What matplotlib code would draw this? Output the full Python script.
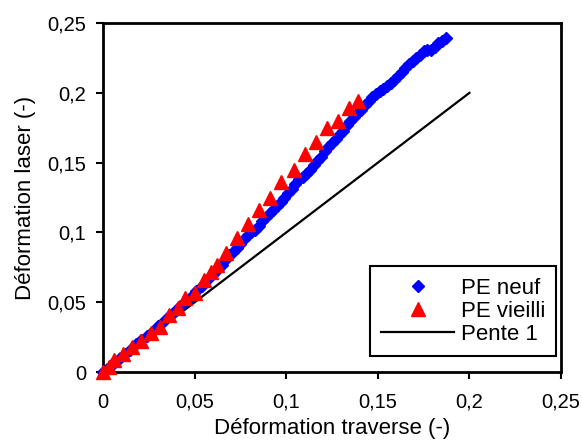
import numpy as np
import matplotlib
matplotlib.use('Agg')
import matplotlib.pyplot as plt

plt.rcParams['font.family'] = ['Liberation Sans', 'DejaVu Sans']

# PE neuf (diamonds)
neuf_x = [0.000, 0.002, 0.004, 0.006, 0.009, 0.012, 0.015, 0.018, 0.021, 0.024,
          0.027, 0.030, 0.033, 0.036, 0.039, 0.042, 0.045, 0.048, 0.051, 0.054,
          0.057, 0.060, 0.062, 0.065, 0.067, 0.069, 0.071, 0.073, 0.075, 0.077,
          0.079, 0.081, 0.083, 0.085, 0.087, 0.089, 0.091, 0.093, 0.095, 0.097,
          0.099, 0.101, 0.103, 0.105, 0.107, 0.109, 0.111, 0.113, 0.115, 0.117,
          0.119, 0.121, 0.123, 0.125, 0.127, 0.129, 0.131, 0.133, 0.135, 0.137,
          0.139, 0.141, 0.143, 0.145, 0.147, 0.149, 0.151, 0.153, 0.155, 0.157,
          0.159, 0.161, 0.163, 0.165, 0.167, 0.169, 0.171, 0.173, 0.175, 0.177,
          0.179, 0.181, 0.183, 0.185, 0.187]
neuf_y = [0.000, 0.002, 0.004, 0.007, 0.010, 0.013, 0.016, 0.020, 0.023, 0.026,
          0.029, 0.033, 0.036, 0.040, 0.043, 0.047, 0.050, 0.054, 0.058, 0.062,
          0.066, 0.070, 0.073, 0.077, 0.081, 0.084, 0.086, 0.089, 0.092, 0.095,
          0.098, 0.100, 0.102, 0.105, 0.108, 0.111, 0.114, 0.116, 0.119, 0.122,
          0.125, 0.128, 0.131, 0.135, 0.138, 0.140, 0.142, 0.145, 0.148, 0.151,
          0.154, 0.158, 0.161, 0.164, 0.167, 0.170, 0.173, 0.177, 0.180, 0.183,
          0.186, 0.188, 0.191, 0.194, 0.197, 0.199, 0.201, 0.203, 0.205, 0.207,
          0.209, 0.212, 0.215, 0.218, 0.221, 0.223, 0.225, 0.227, 0.230, 0.231,
          0.231, 0.233, 0.236, 0.237, 0.239]

# PE vieilli (triangles)
vieilli_x = [0.000, 0.003, 0.006, 0.011, 0.016, 0.021, 0.026, 0.031, 0.036, 0.041,
             0.045, 0.050, 0.055, 0.059, 0.062, 0.067, 0.073, 0.079, 0.085, 0.091,
             0.097, 0.104, 0.110, 0.116, 0.122, 0.128, 0.134, 0.139]
vieilli_y = [0.000, 0.004, 0.009, 0.013, 0.018, 0.022, 0.028, 0.032, 0.041, 0.046,
             0.053, 0.057, 0.066, 0.072, 0.077, 0.085, 0.096, 0.106, 0.116, 0.125,
             0.136, 0.145, 0.156, 0.165, 0.175, 0.180, 0.189, 0.194]

# Pente 1
pente_x = [0.0, 0.2]
pente_y = [0.0, 0.2]

ticks = [0, 0.05, 0.1, 0.15, 0.2, 0.25]
tick_labels = ['0', '0,05', '0,1', '0,15', '0,2', '0,25']

fig = plt.figure(figsize=(5.82, 4.43), dpi=100)
ax = fig.add_axes([0.177, 0.160, 0.787, 0.788])

ax.plot(neuf_x, neuf_y, linestyle='none', marker='D', markersize=6.5,
        color='#0000ff', label='PE neuf', clip_on=False, zorder=3)
ax.plot(vieilli_x, vieilli_y, linestyle='none', marker='^', markersize=9.5,
        color='#ff0000', label='PE vieilli', clip_on=False, zorder=4)
ax.plot(pente_x, pente_y, color='black', linewidth=1.6, label='Pente 1', zorder=2)

ax.set_xlim(0, 0.25)
ax.set_ylim(0, 0.25)
ax.set_xticks(ticks)
ax.set_xticklabels(tick_labels)
ax.set_yticks(ticks)
ax.set_yticklabels(tick_labels)
ax.tick_params(direction='out', length=5, width=1.5, labelsize=14.5, pad=7)
ax.tick_params(axis='x', pad=10)

for s in ax.spines.values():
    s.set_linewidth(2)

ax.set_xlabel('Déformation traverse (-)', fontsize=16, labelpad=4)
ax.set_ylabel('Déformation laser (-)', fontsize=16, labelpad=8)

leg = ax.legend(loc='lower right', bbox_to_anchor=(0.99, 0.046), borderaxespad=0,
                fontsize=16, fancybox=False, edgecolor='black', framealpha=1,
                handlelength=3.3, handletextpad=0.3, labelspacing=0.1,
                borderpad=0.5, markerscale=1.0)
leg.get_frame().set_linewidth(1.5)

fig.savefig('out.png', dpi=100)
